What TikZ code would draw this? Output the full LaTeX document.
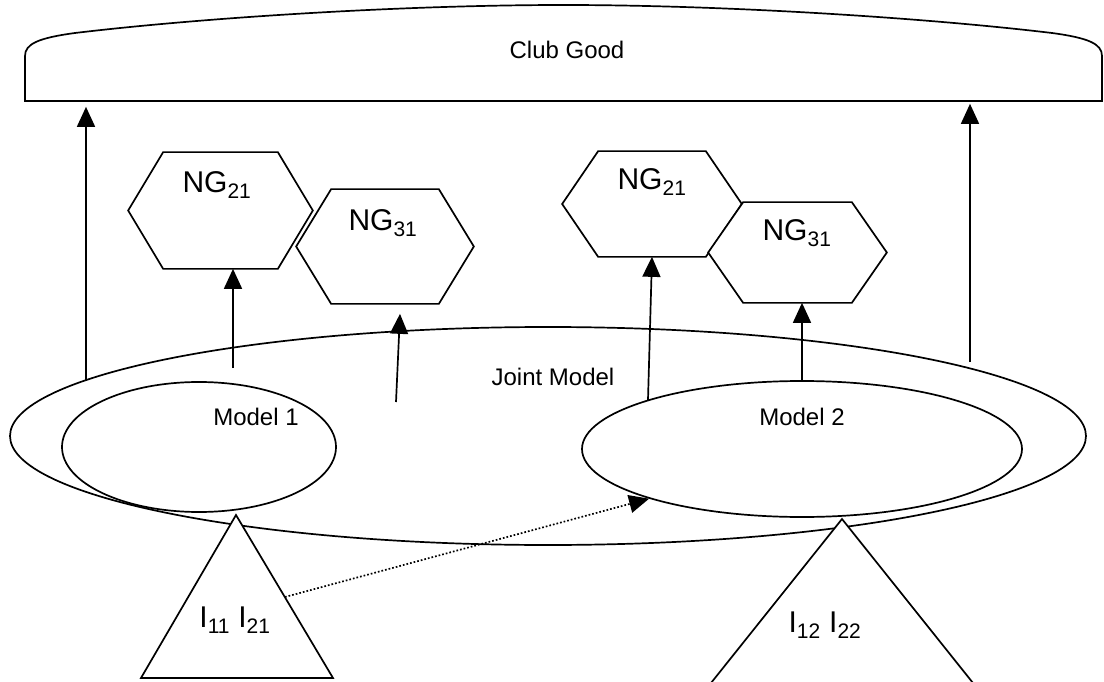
\documentclass[tikz,border=0pt]{standalone}
\usepackage{fontspec}
\setmainfont{Liberation Sans}
\usetikzlibrary{arrows.meta,shapes.geometric,calc}
\newcommand\hexagonpath[2]{%
  \filldraw[hexline] (#1.west) -- ($(#1.north west)+(#2,0)$) -- ($(#1.north east)+(-#2,0)$) -- (#1.east) -- ($(#1.south east)+(-#2,0)$) -- ($(#1.south west)+(#2,0)$) -- cycle;}
\begin{document}
\begin{tikzpicture}[x=1pt,y=-1pt,line width=1.7pt,
  lbl/.style={font=\fontsize{24}{28}\selectfont, inner sep=0pt},
  nglbl/.style={font=\fontsize{30}{34}\selectfont, inner sep=0pt},
  ell/.style={draw, ellipse, inner sep=0pt},
  hexb/.style={inner sep=0pt},
  hexline/.style={draw=black, fill=white, line join=miter},
  arr/.style={-{Triangle[length=20pt,width=18pt]}},
  dotarr/.style={dotted, -{Triangle[length=20pt,width=18pt]}}
]
\useasboundingbox (0,0) rectangle (1104,682);
\fill[white] (0,0) rectangle (1104,682);

% Club good
\node[inner sep=0pt, minimum width=1077pt, minimum height=96pt] (club) at (563.5,53) {};
\draw (25,101) -- (25,56) .. controls (25,44) and (38,38) .. (75,33)
  .. controls (200,18) and (400,5) .. (563.5,5)
  .. controls (727,5) and (927,18) .. (1052,33)
  .. controls (1089,38) and (1102,44) .. (1102,56) -- (1102,101) -- cycle;
\node[lbl] (clubtxt) at (567,50) {Club Good};

% ellipses
\node[ell, minimum width=1076pt, minimum height=218pt] (joint) at (548,436) {};
\node[ell, minimum width=274pt, minimum height=130pt] (m1) at (199,447) {};
\node[ell, minimum width=440pt, minimum height=136pt] (m2) at (802,449) {};
\node[lbl] (jointtxt) at (553,377) {Joint Model};
\node[lbl] (m1txt) at (256,417) {Model 1};
\node[lbl] (m2txt) at (802,417) {Model 2};

% hexagons
\node[hexb, minimum width=183pt, minimum height=115pt] (h1) at (220.5,210.5) {};
\node[hexb, minimum width=176pt, minimum height=113pt] (h2) at (385,246.5) {};
\node[hexb, minimum width=178pt, minimum height=104pt] (h3) at (652,204) {};
\node[hexb, minimum width=177pt, minimum height=99pt] (h4) at (797.5,252.5) {};
\hexagonpath{h1}{35}
\hexagonpath{h2}{35}
\hexagonpath{h3}{36}
\hexagonpath{h4}{35}
\node[nglbl] (h1txt) at (217,185) {NG\textsubscript{21}};
\node[nglbl] (h2txt) at (383,223) {NG\textsubscript{31}};
\node[nglbl] (h3txt) at (652,182) {NG\textsubscript{21}};
\node[nglbl] (h4txt) at (797,233) {NG\textsubscript{31}};

% arrows
\coordinate (a1s) at (86,380);
\coordinate (a2s) at (233,368);
\coordinate (a3s) at (396,402);
\coordinate (a4s) at (648,400);
\coordinate (a6s) at (970,362);
\draw[arr, shorten >=5pt] (a1s) -- (a1s |- club.south);
\draw[arr] (a2s) -- (a2s |- h1.south);
\draw[arr] (a3s) -- ($(h2.south)+(15,10)$);
\draw[arr] (a4s) -- (h3.south);
\draw[arr] (m2.north) -- (m2.north |- h4.south);
\draw[arr, shorten >=2pt] (a6s) -- (a6s |- club.south);

% triangles
\coordinate (t1a) at (236,515);
\coordinate (t1b) at (141,678);
\coordinate (t1c) at (333,678);
\coordinate (t2a) at (842,519);
\coordinate (t2b) at (711,683);
\coordinate (t2c) at (973,683);
\filldraw[fill=white, line join=miter] (t1a) -- (t1b) -- (t1c) -- cycle;
\filldraw[fill=white, line join=miter] (t2a) -- (t2b) -- (t2c) -- cycle;
\node[nglbl] (t1txt) at (235,620) {I\textsubscript{11} I\textsubscript{21}};
\node[nglbl] (t2txt) at (825,625) {I\textsubscript{12} I\textsubscript{22}};

% dotted arrow
\coordinate (d1s) at (285,597);
\draw[dotarr] (d1s) -- (m2.198);
\end{tikzpicture}
\end{document}
